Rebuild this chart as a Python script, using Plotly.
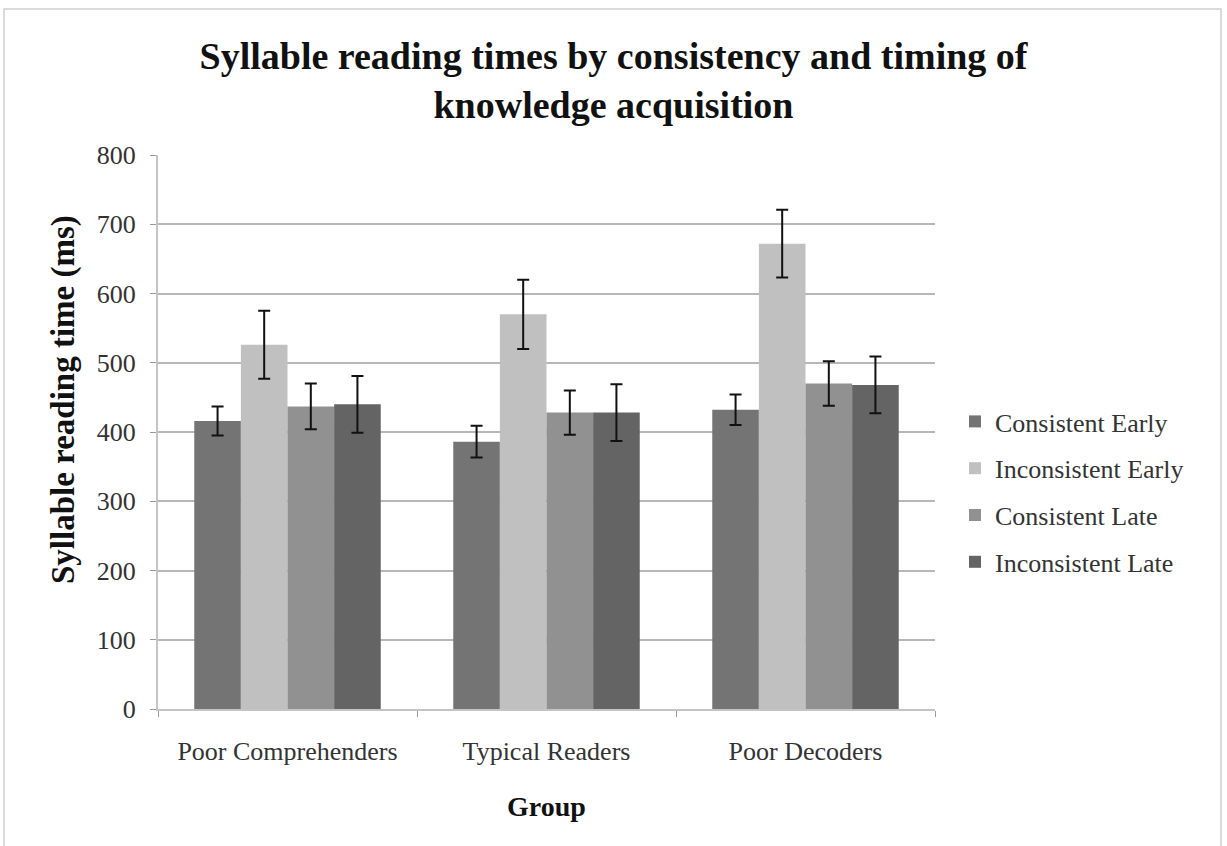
import plotly.graph_objects as go

groups = ["Poor Comprehenders", "Typical Readers", "Poor Decoders"]
series_names = ["Consistent Early", "Inconsistent Early", "Consistent Late", "Inconsistent Late"]
consistent_early = [416, 386, 432]
inconsistent_early = [526, 570, 672]
consistent_late = [437, 428, 470]
inconsistent_late = [440, 428, 468]
err_consistent_early = [21, 23, 22]
err_inconsistent_early = [49, 50, 49]
err_consistent_late = [33, 32, 32]
err_inconsistent_late = [41, 41, 41]

values = [consistent_early, inconsistent_early, consistent_late, inconsistent_late]
errors = [err_consistent_early, err_inconsistent_early, err_consistent_late, err_inconsistent_late]
colors = ["#747474", "#c0c0c0", "#919191", "#646464"]

fig = go.Figure()
for i, (name, vals, errs, col) in enumerate(zip(series_names, values, errors, colors)):
    fig.add_trace(go.Bar(
        x=groups, y=vals, name=name, legendgroup=name,
        marker=dict(color=col, line=dict(width=0)),
        error_y=dict(type="data", array=errs, visible=True, color="#111111", thickness=2, width=6),
    ))

L, R, T, B = 158, 935, 155, 709
W, H = 1227, 846
def px(x):
    return (x - L) / (R - L)
def py(y):
    return (B - y) / (B - T)

FONT = "Liberation Serif"

fig.update_layout(
    width=W, height=H,
    margin=dict(l=L, r=W - R, t=T, b=H - B),
    paper_bgcolor="white", plot_bgcolor="white",
    barmode="group", bargap=0.28, bargroupgap=0,
    font=dict(family=FONT, color="#222222"),
    title=dict(
        text="<b>Syllable reading times by consistency and timing of<br>knowledge acquisition</b>",
        x=0.5, xanchor="center", xref="container", y=1 - 69 / H, yanchor="middle",
        font=dict(size=38, family=FONT, color="#111111"),
    ),
    legend=dict(
        x=px(955), xanchor="left", y=py(492), yanchor="middle",
        font=dict(size=26, family=FONT, color="#333333"),
        traceorder="grouped", tracegroupgap=10, itemwidth=30,
        bgcolor="rgba(0,0,0,0)",
    ),
    showlegend=True,
    xaxis=dict(
        showline=True, linecolor="#c4c4c4", linewidth=2,
        ticks="outside", tickson="boundaries", ticklen=6, tickcolor="#999999", tickwidth=1,
        ticklabelstandoff=18,
        tickfont=dict(size=26, family=FONT, color="#333333"),
        showgrid=False,
    ),
    yaxis=dict(
        range=[0, 800], dtick=100, tick0=0,
        showline=True, linecolor="#c4c4c4", linewidth=2,
        ticks="outside", ticklen=6, tickcolor="#999999", tickwidth=1,
        ticklabelstandoff=9,
        gridcolor="#b8b8b8", gridwidth=2,
        zeroline=False,
        tickfont=dict(size=26, family=FONT, color="#333333"),
    ),
    annotations=[
        dict(text="<b>Syllable reading time (ms)</b>", textangle=-90,
             xref="paper", yref="paper", x=px(63), y=py(400),
             xanchor="center", yanchor="middle", showarrow=False,
             font=dict(size=33, family=FONT, color="#111111")),
        dict(text="<b>Group</b>",
             xref="paper", yref="paper", x=px(546), y=py(806),
             xanchor="center", yanchor="middle", showarrow=False,
             font=dict(size=28, family=FONT, color="#111111")),
    ],
    shapes=[dict(
        type="rect", xref="paper", yref="paper",
        x0=px(4), x1=px(1221), y0=py(850), y1=py(9),
        line=dict(color="#cfcfcf", width=1.5), fillcolor="rgba(0,0,0,0)", layer="below",
    )],
)

fig.write_html("out.html")
